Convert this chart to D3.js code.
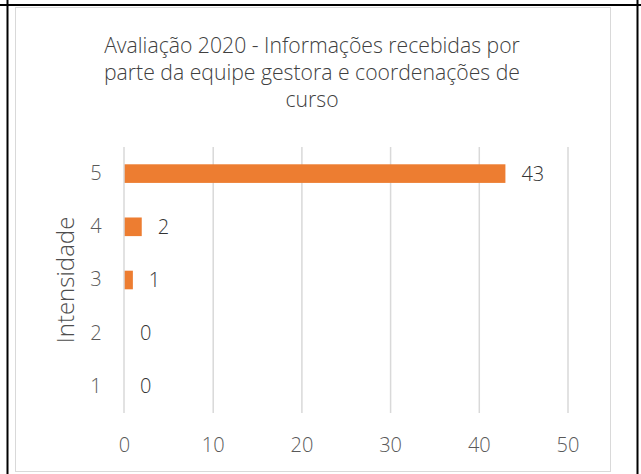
<!DOCTYPE html>
<html>
<head>
<meta charset="utf-8">
<script src="https://cdn.jsdelivr.net/npm/d3@7"></script>
<style>
  html, body { margin: 0; padding: 0; background: #fff; }
  svg { display: block; }
  text { font-family: "Open Sans", "Noto Sans", sans-serif; font-weight: 300; fill: #595959; }
</style>
</head>
<body>
<svg id="chart" width="641" height="474"></svg>
<script>
// Responses per intensity level
const categories = ["1", "2", "3", "4", "5"];
const values = [0, 0, 1, 2, 43];
const xTicks = [0, 10, 20, 30, 40, 50];
const titleLines = [
  "Avaliação 2020 - Informações recebidas por",
  "parte da equipe gestora e coordenações de",
  "curso"
];
const axisTitle = "Intensidade";

const svg = d3.select("#chart");

// Surrounding table cell borders
svg.append("line").attr("x1", 0).attr("x2", 641).attr("y1", 5).attr("y2", 5)
  .attr("stroke", "#000").attr("stroke-width", 2);
svg.append("line").attr("x1", 7.5).attr("x2", 7.5).attr("y1", 0).attr("y2", 474)
  .attr("stroke", "#000").attr("stroke-width", 2);
svg.append("line").attr("x1", 637.5).attr("x2", 637.5).attr("y1", 0).attr("y2", 474)
  .attr("stroke", "#000").attr("stroke-width", 2);

// Chart frame
svg.append("rect").attr("x", 15.5).attr("y", 7.5).attr("width", 595).attr("height", 464)
  .attr("fill", "#fff").attr("stroke", "#d9d9d9").attr("stroke-width", 1);

// Title
svg.append("text")
  .attr("x", 312).attr("text-anchor", "middle")
  .style("font-size", "21.2px").style("fill", "#404040")
  .selectAll("tspan").data(titleLines).join("tspan")
  .attr("x", 312).attr("y", (d, i) => 53 + i * 27)
  .text(d => d);

const plot = { left: 124, right: 567.5, top: 147, bottom: 413 };

const x = d3.scaleLinear().domain([0, 50]).range([plot.left, plot.right]);
const y = d3.scaleBand().domain(categories.slice().reverse())
  .range([plot.top, plot.bottom]).paddingInner(0.65).paddingOuter(0.325);

// Vertical gridlines
svg.append("g").selectAll("line").data(xTicks.filter(t => t > 0)).join("line")
  .attr("x1", d => x(d) + 0.5).attr("x2", d => x(d) + 0.5)
  .attr("y1", plot.top).attr("y2", plot.bottom)
  .attr("stroke", "#d9d9d9").attr("stroke-width", 1.5);

// Bars
svg.append("g").selectAll("rect").data(values).join("rect")
  .attr("x", x(0))
  .attr("y", (d, i) => y(categories[i]))
  .attr("width", d => x(d) - x(0))
  .attr("height", y.bandwidth())
  .attr("fill", "#ED7D31");

// Category axis line
svg.append("line").attr("x1", x(0)).attr("x2", x(0))
  .attr("y1", plot.top).attr("y2", plot.bottom)
  .attr("stroke", "#d9d9d9").attr("stroke-width", 1.5);

// X axis labels
const xAxis = d3.axisBottom(x).tickValues(xTicks).tickSize(0).tickPadding(0);
const gx = svg.append("g").attr("transform", `translate(0, 445)`).call(xAxis);
gx.attr("font-size", null).attr("font-family", null);
gx.select(".domain").remove();
gx.selectAll("text").attr("dy", "0.35em").attr("y", 0)
  .style("font-size", "20px").attr("fill", "#4d4d4d");

// Y axis labels
const yAxis = d3.axisLeft(y).tickSize(0).tickPadding(0);
const gy = svg.append("g").attr("transform", `translate(${plot.left - 28}, 0)`).call(yAxis);
gy.attr("font-size", null).attr("font-family", null);
gy.select(".domain").remove();
gy.selectAll("text").style("font-size", "20px")
  .attr("text-anchor", "middle").attr("fill", "#4d4d4d");

// Value labels
svg.append("g").selectAll("text").data(values).join("text")
  .attr("x", d => x(d) + 16)
  .attr("y", (d, i) => y(categories[i]) + y.bandwidth() / 2)
  .attr("dy", "0.35em")
  .style("font-size", "20px").style("fill", "#333333")
  .text(d => d);

// Axis title
svg.append("text")
  .attr("transform", `translate(74, ${(plot.top + plot.bottom) / 2}) rotate(-90)`)
  .attr("text-anchor", "middle")
  .style("font-size", "24px").style("fill", "#4d4d4d")
  .text(axisTitle);
</script>
</body>
</html>
